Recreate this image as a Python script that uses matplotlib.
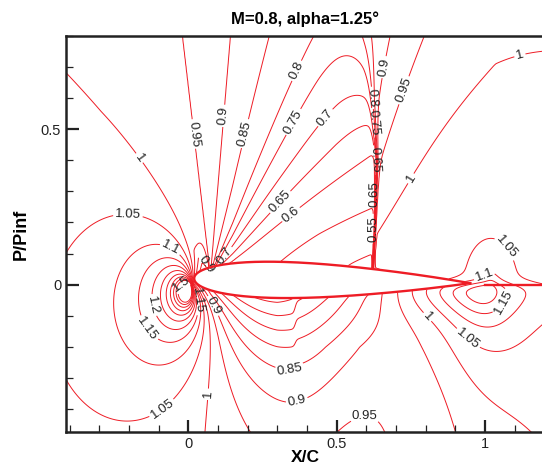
import numpy as np
import matplotlib.pyplot as plt
from matplotlib.path import Path

plt.rcParams['font.family'] = ['Liberation Sans', 'DejaVu Sans']

# ---------------- chart text ----------------
title = "M=0.8, alpha=1.25\u00b0"
x_label = "X/C"
y_label = "P/Pinf"

# contour levels of P/Pinf
levels = [0.45, 0.5, 0.55, 0.6, 0.65, 0.7, 0.75, 0.8, 0.85, 0.9, 0.95, 1.0,
          1.05, 1.1, 1.15, 1.2, 1.25, 1.3, 1.35, 1.4, 1.45, 1.5]

# ---------------- field model parameters ----------------
beta = 0.6                      # sqrt(1 - M^2), stretch of the y direction
nose_xy = (0.012, 0.0)          # stagnation point
nose_strength = 0.004
thick_tau = 0.2                 # thickness source distribution
thick_beta = 0.78
thick_gain = 3.0
thick_y = -0.02
lift_alpha = 1.25               # deg
lift_gain = 1.5
te_xy = (1.02, 0.0)             # trailing edge compression
te_strength = 0.04
te_radius_up = 0.45
te_radius_low = 0.3

# lower side corrections: (centre x, width, amount)
rear_drop_x = [0.95, 0.82]
rear_drop_w = [0.35, 0.12]
rear_drop_a = [0.05, 0.03]
mid_rise_x = 0.55
mid_rise_w = 0.15
mid_rise_a = 0.03

# weak lower-surface shock
low_shock_x = 0.36
low_shock_jump = 0.04

# upper supersonic pocket: angle round the fan centre (deg) -> P/Pinf
fan_xy = (0.075, 0.03)
fan_deg = [0, 20, 32, 43, 52, 60, 66, 75.5, 85, 97, 117.7, 140]
fan_p = [0.575, 0.585, 0.6, 0.65, 0.7, 0.75, 0.8, 0.85, 0.9, 0.95, 1.0, 1.03]

# behind the shock: angle round (0.52, 0) -> P/Pinf
aft_xy = (0.52, 0.0)
aft_deg = [0, 30, 42, 54, 72.5, 79.5, 84, 100]
aft_p = [0.985, 0.985, 0.99, 0.985, 0.935, 0.885, 0.855, 0.84]

# upper shock position and smearing against height
shock_y = [0.0, 0.2, 0.4, 0.6, 0.9]
shock_x = [0.62, 0.63, 0.635, 0.62, 0.605]
shock_w = [0.002, 0.003, 0.005, 0.012, 0.03]

# drawn airfoil outline
foil_le = (0.02, 0.02)
foil_te = (0.95, 0.005)
foil_t = 0.125

# ---------------- build the field ----------------
gx = np.linspace(-0.45, 1.25, 600)
gy = np.linspace(-0.5, 0.85, 480)
X, Y = np.meshgrid(gx, gy)

dx = X - nose_xy[0]
dy = beta * (Y - nose_xy[1])
p_lin = 1 - nose_strength * dx / (dx**2 + dy**2 + 1e-4)

s = 0.5 * (1 - np.cos(np.linspace(0, np.pi, 241)))
T = thick_tau * s**0.8 * (1 - s)**1.6
dT = np.diff(T)
F = np.sqrt(s * (1 - s)) + np.arcsin(np.sqrt(s))
dG = 2 * np.radians(lift_alpha) * np.diff(F)
sm = 0.5 * (s[1:] + s[:-1])
Yt = thick_beta * (Y - thick_y)
Yl = beta * Y
ut = np.zeros_like(X)
ul = np.zeros_like(X)
for si, ti, gi in zip(sm, dT, dG):
    ddx = X - si
    ut += ti * ddx / (ddx**2 + Yt**2 + 2e-4)
    ul += gi * Yl / (ddx**2 + Yl**2 + 2e-4)
p_lin += -thick_gain * ut / np.pi - lift_gain * ul / (2 * np.pi)

rt2 = (X - te_xy[0])**2 + (beta * (Y - te_xy[1]))**2 + 2e-4
bump_up = 0.5 * te_strength * np.log1p(te_radius_up**2 / rt2)
bump_low = 0.5 * te_strength * np.log1p(te_radius_low**2 / rt2)
p_low = p_lin + bump_low
step = 0.5 * (1 - np.tanh((X - low_shock_x) / 0.006)) * np.clip((X - 0.1) / 0.2, 0, 1)
p_low -= low_shock_jump * step * np.exp(-(Y / 0.2)**2)
away = 1 - np.exp(-(Y / 0.1)**2)
for cx, w, a in zip(rear_drop_x, rear_drop_w, rear_drop_a):
    p_low -= a * np.exp(-((X - cx) / w)**2) * away
p_low += mid_rise_a * np.exp(-((X - mid_rise_x) / mid_rise_w)**2) * np.clip(-Y / 0.2, 0, 1)

# upper side ahead of the shock
xsh = np.interp(Y, shock_y, shock_x)
th = np.degrees(np.arctan2(Y - fan_xy[1], X - fan_xy[0]))
p_fan = np.interp(th, fan_deg, fan_p)
ramp = np.clip((X - 0.15) / (xsh - 0.15), 0, 1)
p_fan -= 0.13 * ramp * np.exp(-np.clip(Y, 0, None) / 0.2)
p_fan += 0.1 * np.clip((Y - 0.45) / 0.35, 0, 1) * np.exp(-np.clip(xsh - X, 0, None) / 0.06)
w_fan = np.clip((125 - th) / 25, 0, 1)
p_front = w_fan * p_fan + (1 - w_fan) * (p_lin + bump_low)

# upper side behind the shock
ph = np.degrees(np.arctan2(Y - aft_xy[1], X - aft_xy[0]))
p_aft = np.interp(ph, aft_deg, aft_p) + bump_up

sw = 0.5 * (1 + np.tanh((X - xsh) / np.interp(Y, shock_y, shock_w)))
p_up = (1 - sw) * p_front + sw * p_aft

# split upper / lower along the chord line
y_chord = np.interp(X, [foil_le[0], 1.25], [foil_le[1], 0.0])
up = (th > 0) & (th < 180)
vb = 0.5 * (1 + np.tanh((Y - y_chord) / 0.02))
P = np.where(X < fan_xy[0], np.where(up, p_up, p_low), vb * p_up + (1 - vb) * p_low)
P = np.clip(P, 0.3, 1.56)

# airfoil outline (NACA 00xx shape)
sc = 0.5 * (1 - np.cos(np.linspace(0, np.pi, 120)))
yt = 5 * foil_t * (0.2969 * np.sqrt(sc) - 0.126 * sc - 0.3516 * sc**2 + 0.2843 * sc**3 - 0.1036 * sc**4)
chord = foil_te[0] - foil_le[0]
xc = foil_le[0] + chord * sc
yc = foil_le[1] + (foil_te[1] - foil_le[1]) * sc
fx = np.concatenate([xc[::-1], xc[1:]])
fy = np.concatenate([(yc + yt * chord)[::-1], (yc - yt * chord)[1:]])

inside = Path(np.column_stack([fx, fy])).contains_points(np.column_stack([X.ravel(), Y.ravel()]))
P = np.ma.masked_array(P, inside.reshape(X.shape))

# ---------------- draw ----------------
fig = plt.figure(figsize=(5.42, 4.69), dpi=100)
ax = fig.add_axes([66 / 542, 1 - 432.3 / 469, (544.3 - 66) / 542, (432.3 - 35.6) / 469])
ax.set_xlim(-0.412, 1.2)
ax.set_ylim(-0.474, 0.8)

red = '#ee1c25'
cs = ax.contour(X, Y, P, levels=levels, colors=red, linewidths=0.7, zorder=1)

label_xy = [(-0.11, 0.445), (0.006, 0.483), (0.10, 0.544), (0.175, 0.489), (0.35, 0.694),
            (0.356, 0.522), (0.466, 0.533), (0.32, 0.257), (0.36, 0.209),
            (0.653, 0.70), (0.74, 0.62), (1.107, 0.777), (0.775, 0.327),
            (-0.20, 0.30), (-0.062, 0.113), (-0.14, -0.07), (-0.12, -0.13), (-0.11, -0.37),
            (0.04, -0.35), (0.343, -0.273), (0.377, -0.41), (0.596, -0.44), (0.81, -0.10),
            (0.944, -0.171), (1.0, 0.027), (1.05, -0.048), (1.163, 0.187),
            (0.62, 0.60), (0.625, 0.52), (0.63, 0.40), (0.63, 0.29), (0.625, 0.18),
            (-0.02, 0.0), (0.035, -0.05), (0.06, 0.065), (0.12, 0.095), (0.08, -0.07)]
ax.clabel(cs, manual=label_xy, inline=True, inline_spacing=2, fmt='%g', fontsize=9.5,
          colors='#222222')

ax.fill(fx, fy, color='white', zorder=2)
ax.plot(fx, fy, color=red, lw=1.7, zorder=3)
ax.plot([1.0, 1.25], [0.0, 0.0], color=red, lw=1.7, zorder=3)

ax.set_title(title, fontsize=12, fontweight='bold', pad=8)
ax.set_xlabel(x_label, fontsize=12.5, fontweight='bold', labelpad=-1)
ax.set_ylabel(y_label, fontsize=13, fontweight='bold', labelpad=8)

ax.set_xticks([0, 0.5, 1])
ax.set_xticklabels(['0', '0.5', '1'])
ax.set_yticks([0, 0.5])
ax.set_yticklabels(['0', '0.5'])
ax.set_xticks(np.arange(-0.4, 1.21, 0.1), minor=True)
ax.set_yticks(np.arange(-0.4, 0.81, 0.1), minor=True)
ax.tick_params(which='both', direction='in', top=False, right=False, labelsize=10.5, colors='#222222')
ax.tick_params(which='major', length=9, width=1.6)
ax.tick_params(which='minor', length=5, width=0.9)
for side in ['left', 'bottom', 'top']:
    ax.spines[side].set_linewidth(1.8)
    ax.spines[side].set_color('#222222')
ax.spines['right'].set_visible(False)

fig.savefig('out.png', dpi=100)
